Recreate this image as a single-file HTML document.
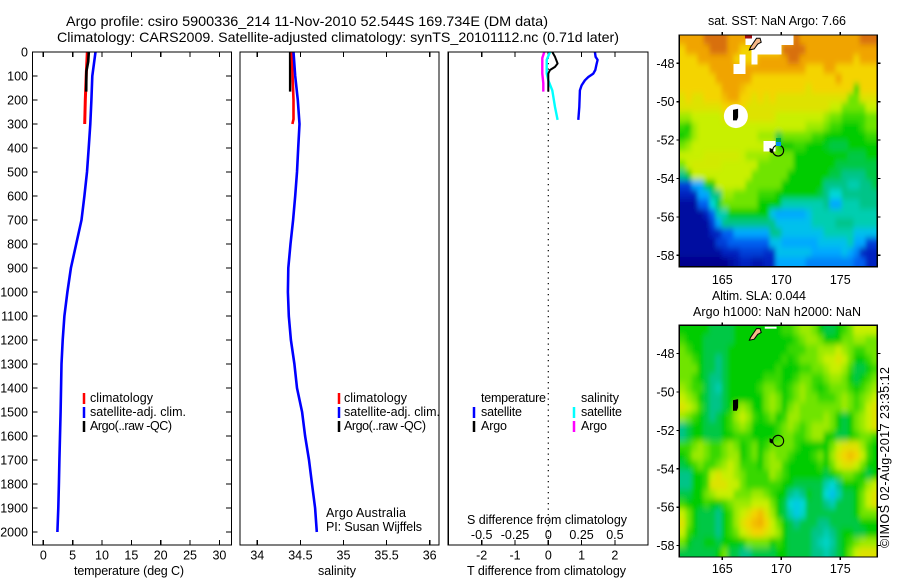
<!DOCTYPE html>
<html>
<head>
<meta charset="utf-8">
<title>Argo profile</title>
<style>
html,body{margin:0;padding:0;background:#fff;}
svg{display:block;}
text{font-family:"Liberation Sans",sans-serif;font-size:12.5px;fill:#000;}
.t{font-size:14px;}
</style>
</head>
<body>
<svg id="chart" xmlns="http://www.w3.org/2000/svg" width="900" height="580" viewBox="0 0 900 580">
<defs>
<filter id="soften" filterUnits="userSpaceOnUse" x="640" y="0" width="260" height="580"><feGaussianBlur stdDeviation="2 3.2"/></filter>
<clipPath id="clip-map-1"><rect x="679.3" y="35" width="198" height="231.7"/></clipPath>
<clipPath id="clip-map-2"><rect x="679.3" y="325.3" width="198" height="231.7"/></clipPath>
</defs>
<rect width="900" height="580" fill="#fff"/>
<text class="t" x="66" y="26" textLength="482" lengthAdjust="spacingAndGlyphs">Argo profile: csiro 5900336_214 11-Nov-2010 52.544S 169.734E (DM data)</text>
<text class="t" x="57" y="42" textLength="562" lengthAdjust="spacingAndGlyphs">Climatology: CARS2009. Satellite-adjusted climatology: synTS_20101112.nc (0.71d later)</text>

<g id="maps"></g>
<g id="panels"></g>

<rect x="745" y="35.5" width="7" height="3" fill="#a01010"/>
<rect x="776" y="138" width="5" height="4" fill="#00a840"/>
<rect x="776" y="142" width="5" height="4" fill="#0090f0"/>

<text x="74" y="575" textLength="110">temperature (deg C)</text>
<text x="318" y="575" textLength="38">salinity</text>
<text x="467" y="575" textLength="159">T difference from climatology</text>
<text x="467" y="524" textLength="160">S difference from climatology</text>

<g>
<line x1="84" y1="393" x2="84" y2="404" stroke="#f00" stroke-width="2.5"/>
<text x="90" y="402" textLength="63">climatology</text>
<line x1="84" y1="407" x2="84" y2="418" stroke="#00f" stroke-width="2.5"/>
<text x="90" y="416" textLength="96">satellite-adj. clim.</text>
<line x1="84" y1="421" x2="84" y2="432" stroke="#000" stroke-width="2.5"/>
<text x="90" y="430" textLength="82">Argo(..raw -QC)</text>
</g>
<g>
<line x1="339" y1="393" x2="339" y2="404" stroke="#f00" stroke-width="2.5"/>
<text x="344" y="402" textLength="63">climatology</text>
<line x1="339" y1="407" x2="339" y2="418" stroke="#00f" stroke-width="2.5"/>
<text x="344" y="416" textLength="96">satellite-adj. clim.</text>
<line x1="339" y1="421" x2="339" y2="432" stroke="#000" stroke-width="2.5"/>
<text x="344" y="430" textLength="82">Argo(..raw -QC)</text>
</g>
<g>
<text x="481" y="402" textLength="65">temperature</text>
<text x="581" y="402" textLength="38">salinity</text>
<line x1="474" y1="407" x2="474" y2="418" stroke="#00f" stroke-width="2.5"/>
<text x="481" y="416" textLength="41">satellite</text>
<line x1="474" y1="421" x2="474" y2="432" stroke="#000" stroke-width="2.5"/>
<text x="481" y="430" textLength="26">Argo</text>
<line x1="574" y1="407" x2="574" y2="418" stroke="#0ff" stroke-width="2.5"/>
<text x="581" y="416" textLength="41">satellite</text>
<line x1="574" y1="421" x2="574" y2="432" stroke="#f0f" stroke-width="2.5"/>
<text x="581" y="430" textLength="26">Argo</text>
</g>
<text x="326" y="517" textLength="80">Argo Australia</text>
<text x="326" y="531" textLength="96">PI: Susan Wijffels</text>

<text x="708" y="25" textLength="138">sat. SST: NaN Argo: 7.66</text>
<text x="712" y="300" textLength="94">Altim. SLA: 0.044</text>
<text x="693" y="316" textLength="168">Argo h1000: NaN h2000: NaN</text>
<text transform="translate(889,548) rotate(-90)" textLength="181">©IMOS 02-Aug-2017 23:35:12</text>
</svg>

<script>
// ---- profile data ----
const tempDepthTicks = [0,100,200,300,400,500,600,700,800,900,1000,1100,1200,1300,1400,1500,1600,1700,1800,1900,2000];
const tempTicks = [0,5,10,15,20,25,30];
const salTicks = [34,34.5,35,35.5,36];
const salTickLabels = ['34','34.5','35','35.5','36'];
const diffTTicks = [-2,-1,0,1,2];
const diffTLabels = ['-2','-1','0','1','2'];
const diffSTicks = [-0.5,-0.25,0,0.25,0.5];
const diffSLabels = ['-0.5','-0.25','0','0.25','0.5'];

const tempSatDepth = [0,100,200,300,400,500,600,700,800,900,1000,1100,1200,1300,1500,1700,1800,1900,2000];
const tempSatValue = [8.9,8.35,8.2,8.0,7.73,7.45,7.0,6.5,5.6,4.7,4.1,3.6,3.3,3.1,2.95,2.75,2.65,2.55,2.4];
const tempClimDepth = [0,100,200,300];
const tempClimValue = [7.5,7.3,7.15,7.05];
const tempArgoDepth = [0,40,80,165];
const tempArgoValue = [7.75,7.65,7.35,7.3];

const salSatDepth = [0,100,200,300,400,500,600,700,800,900,1000,1100,1200,1300,1400,1500,1600,1700,1800,1900,2000];
const salSatValue = [34.42,34.44,34.47,34.49,34.475,34.46,34.44,34.415,34.385,34.36,34.355,34.365,34.39,34.43,34.46,34.52,34.555,34.6,34.635,34.67,34.69];
const salClimDepth = [0,100,200,280,300];
const salClimValue = [34.4,34.41,34.42,34.42,34.407];
const salArgoDepth = [0,165];
const salArgoValue = [34.38,34.38];

const diffTSatDepth = [0,20,33,50,75,90,104,118,139,160,229,283];
const diffTSatValue = [1.4,1.42,1.48,1.45,1.41,1.35,1.2,1.1,1.0,0.95,0.93,0.9];
const diffTArgoDepth = [0,20,48,62,75,90,165];
const diffTArgoValue = [0.12,0.2,0.28,0.2,0.05,0,0];
const diffSSatDepth = [0,33,90,118,160,229,283];
const diffSSatValue = [0.013,-0.012,-0.012,0,0.03,0.05,0.07];
const diffSArgoDepth = [0,25,90,130,165];
const diffSArgoValue = [-0.03,-0.045,-0.045,-0.0375,-0.0375];

// ---- map data: colour level per cell, -1 = no data ----
const mapLonTicks = [165,170,175];
const mapLatTicks = [-48,-50,-52,-54,-56,-58];
const mapLatLabels = ['-48','-50','-52','-54','-56','-58'];
const sstLevels = [
[10,10,10,10,11,11,11,11,10,10,10,-1,-1,-1,-1,-1,-1,-1,-1,11,10,10,10,10,10,10,10,10,10,10,11,11,11],
[9,10,10,10,10,11,11,11,10,10,9,9,-1,-1,-1,-1,-1,11,11,11,11,10,10,10,10,10,10,10,10,10,10,10,10],
[9,9,9,10,10,10,10,10,10,9,-1,9,-1,10,10,10,10,10,11,11,10,10,10,10,10,10,10,10,10,9,10,10,10],
[9,9,9,9,9,10,10,10,10,-1,-1,10,10,10,10,10,10,10,10,10,10,9,9,9,10,10,9,9,9,9,9,9,9],
[9,9,9,9,9,9,10,10,10,10,10,10,9,9,9,9,9,9,9,9,9,9,9,9,9,9,10,9,9,9,9,9,9],
[9,9,9,9,9,9,9,10,10,10,9.5,9,9,9,9,9,9,9,9,9,9,8.5,9,9,9,9,9,9,9,6.5,9,9,9],
[8.5,9,8.5,8.5,9,9,9,9.5,10,10,9,9,8.5,9,8.5,9,8.5,8.5,8.5,8.5,8.5,8.5,8.5,8.5,8.5,8.5,8.5,8.5,7,7,8.5,8.5,8.5],
[8.5,8.5,8.5,8.5,8.5,8.5,8.5,9,9,9,9,8.5,8.5,8.5,8.5,8.5,8.5,8.5,8.5,8.5,8.5,8.5,8.5,8.5,8.5,8,8,7,7,7,7,8,8],
[7.5,7.5,8,8,8,8,8,8.5,8.5,8.5,8.5,8.5,8.5,8.5,8.5,8.5,8,8,8,8,8,8,8,8,7.5,7,7,6.5,6.5,6.5,6.5,7,7],
[6.5,6,7.5,8,8,8,8,8,8,8,8,8,8,8,8,8,8,8,8,8,8,7.5,7.5,7.5,7,6.5,6.5,6,6,6,6.5,7,7],
[6,6.5,7.5,8,8,8,8,8,8,8,8,8,8,7.5,7.5,7.5,5.5,7,7,7,7,7,6.5,6.5,6,6,6,6,6,6,6,6.5,6.5],
[7,7.5,8,8,8,8,8,8,8,8,8,8,8,8,-1,-1,6,6,6,6.5,6.5,6,6,6,5.8,5.5,5.5,5.5,6,6,6,6,6],
[8,8,8,8,8.2,8.2,8.2,8.2,8.2,8.2,8,7.5,7.5,7.5,7.5,7,7,7,7,6,6,6,6,6,6,6,6,6,5.5,5.5,5.5,6,6],
[7,8,8.2,8.2,8.2,8.2,8.2,8,8,8,8,8,8,7,7,7,7,7,7,6,6,6,6,6,6,6,5.5,5.5,5.5,5.5,5.5,5.5,5.5],
[5,6,8,8,8,8,8,8,8,8,8,8,7,7,7,7,7,7,6,6,6,6,6,6,6,5.5,5.5,5,5,5,5,5.5,5.5],
[1.5,1.5,3,3,6,6,8,8,8,8,8,7,7,7,7,7,7,6,6,6,6,6,6,6,5,5,5,5,4.5,4.5,5,5,5.5],
[1,1,1,3,3,5,5,7.5,7.5,7,7,7,7,6.5,6.5,6.5,6,6,6,6,6,6,6,5.5,5,4,4,5,5,5,5,5,5],
[0.5,0.5,0.5,2,2,4,5.5,7,7,7,7,7,7,6,6,6,6,4.5,4.5,4.5,4.5,4.5,4.5,4.5,5,3,3,4.5,4.5,4.5,5,5,5],
[0.5,0.5,0.5,0.5,1,2,4.5,4.5,6,6,6,6,6,6,6,3.5,3,3,3,3,3,3.5,4.5,4.5,4.5,4.5,4.5,4.5,4.5,4.5,4.5,4.5,4.5],
[0.5,0.5,0.5,0.5,0.5,1.5,3,5,5,5,5,5,5,5,5,5,3.5,3.5,3.5,3.5,3.5,3.5,4.5,4.5,4.5,4.5,5,5,5,4.5,4.5,4.5,4.5],
[0.5,0.5,0.5,0.5,0.5,1,1,2,2,3,3,3,3,3,3,5,5,3.5,3.5,3.5,3.5,3.5,3.5,3.5,4.5,4.5,4.5,4.5,4.5,3.5,3.5,3.5,3.5],
[0.5,0.5,0.5,0.5,0.5,0.5,1.5,1.5,2,2,2,2,2,2,2,3.5,3.5,3,3,3,3,3,3,3.5,3.5,3.5,3.5,3.5,4.5,3,3,1.5,1.5],
[0.5,0.5,0.5,0.5,0.5,0.5,0.5,1,1,1,1.5,1.5,1.5,1.5,1.2,1.2,3.5,3.5,3.5,3.5,3.5,3.5,3,3,3,3,3,3.5,3,2.5,1,1,1],
[0.2,0.2,0.2,0.2,0.2,0.2,0.2,0.2,0.5,0.7,1,1,0.7,0.7,1,1,3,3,3,3,3,2.5,2.5,2.5,2.5,2.5,2.5,2.5,2.5,2,2,1,1]
];
const slaLevels = [
[6,6,6,6,6,5.5,5.5,5.5,5.5,6,6,6,6,6,6,6,6,6.5,6.5,7,7.5,7.5,7,6,5.5,5.5,6,6.5,7,8,8,8,8],
[6.5,6,6,6,5.5,5.5,5.5,5.5,5.5,6,6,6,6,6,6,6,6,6,6,6.5,7,7.5,7.5,7,6,6,6,7,7,7.5,7.5,7,7],
[7,6.5,6,6,5.5,5.5,5.5,5.5,6,6,6,6,6,6,6,6,6,6,6.5,6.5,6.5,7,7,7.5,7.5,7.5,8,7.5,7,6.5,6.5,7,7],
[7,7,6.5,6,5.5,5.5,5,5.5,6,6,6,6,6,6,6,6,6,6.5,6,6.5,7,7,7,7.5,8,8,8.5,8,7,6,6,6.5,7],
[7,7,7,6,5.5,5.5,5,5.5,6,6,6,6,6,6,6,6,6.5,6,6,6,6.5,6.5,7,7,7.5,8,8,7.5,6.5,5.5,5.5,6,6.5],
[7,7,6.5,6,5.5,5,5,5.5,6,6,6,6,6,6,6.5,6.5,6.5,6,6,6.5,7,7,6.5,6.5,7,7.5,7.5,7,6,5.5,6,6.5,7],
[7.5,7,6.5,6.5,5.5,5,4.5,5.5,6,6,6,6,6,6.5,7,7,6.5,6,6.5,7,7.5,7,6.5,6,6.5,7,7,7,6.5,6,6.5,7,7.5],
[8,7.5,7,6,5.5,5,5,5.5,6,6,6,6,6,6,7,7.5,7,6,6.5,7,7.5,7,7,6.5,6.5,6.5,7,7.5,7,6.5,7,7.5,8],
[8.5,8,7.5,6.5,5.5,5,5,5.5,6,7,7.5,7,6,6,7,7.5,7,6,7,7.5,7,7,7,7,7,7,7,7.5,7,6.5,7,8,8.5],
[7.5,7,6.5,6,5.5,5,5.5,6,6.5,7.5,8,7.5,6.5,6,6.5,7,6,6.5,7.5,7.5,7,7,7,7,7.5,7,6,5.5,6,7,7.5,8,8.5],
[5,5.5,6,6,5.5,5.5,5.5,6,6.5,7,7.5,7,6,6,6,6,6.5,7,7.5,7,6.5,7,7.5,7.5,7.5,7,6,5.5,6,7,7.5,8,8.5],
[5,5.5,6,6,5.5,5.5,5.5,6,6,6.5,6.5,6.5,6,6,6,6,6.5,7,7,6.5,6.5,7,7.5,7.5,6,6,5.5,5.5,6,6.5,7,7,6.5],
[6.5,6.5,7,7.5,7,6.5,6.5,7,7.5,7,6,6.5,7,6,6.5,7,7,7,7,6.5,6,6,6,6,6,7,8,8.5,8.5,8.5,7.5,6.5,6],
[6,6.5,7.5,7.5,7,6.5,6.5,7,7.5,7.5,6,6.5,7,6,7,7.5,7,7,6.5,6,6,6,6.5,7,6,7.5,8.5,9,9.5,9,8,6.5,6],
[5.5,6,6.5,7,6.5,6.5,7,7.5,8,7.5,6.5,6.5,6.5,6,7,7.5,7.5,6.5,6,6,6,6,6,6.5,6,7,8,8.5,8.5,8,7,6,6],
[5,5,6,6,6.5,8,8.5,8,8,7.5,7,6.5,6.5,6.5,6.5,7.5,7,6.5,6,6,6,6,6,6,5.5,6,6.5,7,7,6.5,6,5.5,6],
[5,5,6,6,6.5,8.5,8.5,8.5,8,8,7,6.5,6.5,6.5,6.5,6.5,6.5,6,6,5.5,5.5,5.5,5.5,5.5,4.5,4,5,6,6,6,6.5,7.5,8],
[5.5,5.5,6,6,7,7.5,8,8,8,7,7,7,7.5,7.5,7,6.5,6,6,5,4.5,5,6,5.5,5.5,4,3.5,4.5,5.5,5.5,6,7,8,8.5],
[6.5,6,6,6,6.5,6,6,6.5,7,7.5,7.5,7.5,8,8,8,7,6,5.5,4,3.7,4,5.5,5.5,5.5,5,4.5,5.5,5.5,5.5,6,7,8,8.5],
[8,7,6,5.5,5.5,5.5,5,6,6.5,7.5,8,8.5,9,9.5,8.5,7.5,6,5.5,4.5,3.7,4.2,5.5,5.5,5.5,5.5,5.5,5.5,5.5,5.5,6,7,7,7],
[8.5,7,6,5.5,5.5,5.5,5,6,6.5,7.5,8.5,9,9.5,9.8,9,8,7,6,5.5,5,5.5,5.5,5.5,5,5,5.5,5.5,5.5,5.5,5.5,6,6,6],
[8,6.5,6,5.5,5.5,5.5,5,6,6.5,7,8,8.5,9,9,8.5,8,7.5,6,5.5,5.5,5.5,5.5,5,5,4.5,5,5.5,6,6,5.5,5.5,6,6],
[7,6,5.5,5.5,6,6,5.5,6,6,6,6,7,7,7,7,6,6.5,6,5.5,5.5,5.5,5.5,5,4.5,4.2,4.7,5.5,6,6.5,7,7.5,7.5,7.5],
[5.5,5.5,5.5,5.5,5.5,5.5,6,7,5.5,5.5,5,5,5.5,5.5,5.5,5.5,6,6,5.5,5.5,5.5,5.5,5,5,4.5,5,5.5,6,7,8,8.5,8.5,8.5]
];
const colourStops = ['#000080','#0020c0','#0060f0','#00a8ff','#00d8d8','#00c488','#00cc00','#70e400','#c8f000','#f4d400','#f0a400','#d87010'];

// island outlines, lon/lat
const stewartLon = [167.4,167.9,168.2,168.3,168.0,167.7,167.3];
const stewartLat = [-47.15,-46.7,-46.7,-46.9,-47.0,-47.25,-47.3];
const aucklandLon = [165.95,166.3,166.3,166.2,165.95];
const aucklandLat = [-50.45,-50.4,-50.8,-50.95,-50.95];
const campbellLon = [169.05,169.25,169.2,169.05];
const campbellLat = [-52.45,-52.5,-52.65,-52.6];
const antipodesLon = [168.6,169.6];
const antipodesLat = [-46.65,-46.65];
const noDataLon = 166.15;
const noDataLat = -50.75;
const floatLon = 169.734;
const floatLat = -52.544;

// ---- helpers ----
const NS = 'http://www.w3.org/2000/svg';
const panelsG = document.getElementById('panels');
const mapsG = document.getElementById('maps');

function mk(parent, tag, attrs, txt){
  const el = document.createElementNS(NS, tag);
  for (const k in attrs) el.setAttribute(k, attrs[k]);
  if (txt !== undefined) el.textContent = txt;
  parent.appendChild(el);
  return el;
}
function tick(parent, x1, y1, x2, y2, name){
  const el = mk(parent, 'line', {x1:x1,y1:y1,x2:x2,y2:y2,stroke:'#000','stroke-width':1.2,'shape-rendering':'crispEdges'});
  
  
  return el;
}
function label(parent, x, y, s, anchor, name){
  const el = mk(parent, 'text', {x:x,y:y,'text-anchor':anchor}, s);
  
  
  return el;
}
function frame(parent, x, y, w, h, name){
  const el = mk(parent, 'rect', {x:x,y:y,width:w,height:h,fill:'none',stroke:'#000','stroke-width':1.2,'shape-rendering':'crispEdges'});
  
  
  return el;
}
function profile(parent, depths, values, xf, colour, w, name){
  const pts = depths.map((d,i)=>xf(values[i]).toFixed(1)+','+yD(d).toFixed(1)).join(' ');
  const el = mk(parent, 'polyline', {points:pts,fill:'none',stroke:colour,'stroke-width':w,'stroke-linejoin':'round'});
  
  
  return el;
}

// ---- axis functions ----
const TOP = 52, BOTTOM = 545;
function yD(d){ return 52 + 0.24*d; }
function xT(t){ return 43.3 + 5.87*t; }
function xS(s){ return 257.3 + 86.2*(s-34); }
function xDT(t){ return 548.3 + 33.3*t; }
function xDS(s){ return 548.3 + 133.2*s; }

// ---- temperature panel ----
const p1 = mk(panelsG, 'g', {});


tempDepthTicks.forEach(d=>{
  tick(p1, 32.5, yD(d), 37.5, yD(d), 'depth-tick');
  tick(p1, 226, yD(d), 231.5, yD(d), 'depth-tick-right');
  label(p1, 28, yD(d)+4.5, String(d), 'end', 'depth-tick-label');
});
tempTicks.forEach(t=>{
  tick(p1, xT(t), TOP, xT(t), TOP+5, 'temperature-tick-top');
  tick(p1, xT(t), BOTTOM-5, xT(t), BOTTOM, 'temperature-tick');
  label(p1, xT(t), 559.5, String(t), 'middle', 'temperature-tick-label');
});
profile(p1, tempClimDepth, tempClimValue, xT, '#f00', 3, 'temperature-climatology-line');
profile(p1, tempSatDepth, tempSatValue, xT, '#00f', 2.6, 'temperature-satellite-line');
profile(p1, tempArgoDepth, tempArgoValue, xT, '#000', 2.6, 'temperature-argo-line');
frame(p1, 32.5, TOP, 199, BOTTOM-TOP, 'temperature-panel-frame');

// ---- salinity panel ----
const p2 = mk(panelsG, 'g', {});


salTicks.forEach((s,i)=>{
  tick(p2, xS(s), TOP, xS(s), TOP+5, 'salinity-tick-top');
  tick(p2, xS(s), BOTTOM-5, xS(s), BOTTOM, 'salinity-tick');
  label(p2, xS(s), 559.5, salTickLabels[i], 'middle', 'salinity-tick-label');
});
profile(p2, salArgoDepth, salArgoValue, xS, '#000', 2.4, 'salinity-argo-line');
profile(p2, salClimDepth, salClimValue, xS, '#f00', 2.6, 'salinity-climatology-line');
profile(p2, salSatDepth, salSatValue, xS, '#00f', 2.6, 'salinity-satellite-line');
frame(p2, 240, TOP, 199, BOTTOM-TOP, 'salinity-panel-frame');

// ---- difference panel ----
const p3 = mk(panelsG, 'g', {});


const zero = mk(p3, 'line', {x1:xDT(0),y1:TOP,x2:xDT(0),y2:BOTTOM,stroke:'#000','stroke-width':1.2,'stroke-dasharray':'1.3 4.2'});


diffTTicks.forEach((t,i)=>{
  tick(p3, xDT(t), TOP, xDT(t), TOP+5, 'difference-tick-top');
  tick(p3, xDT(t), BOTTOM-5, xDT(t), BOTTOM, 'difference-tick');
  label(p3, xDT(t), 559.5, diffTLabels[i], 'middle', 't-difference-tick-label');
});
diffSTicks.forEach((s,i)=>{
  label(p3, xDS(s), 539, diffSLabels[i], 'middle', 's-difference-tick-label');
});
profile(p3, diffSArgoDepth, diffSArgoValue, xDS, '#f0f', 2.4, 's-difference-argo-line');
profile(p3, diffSSatDepth, diffSSatValue, xDS, '#0ff', 2.4, 's-difference-satellite-line');
profile(p3, diffTArgoDepth, diffTArgoValue, xDT, '#000', 2, 't-difference-argo-line');
profile(p3, diffTSatDepth, diffTSatValue, xDT, '#00f', 2.4, 't-difference-satellite-line');
frame(p3, 448.3, TOP, 199.7, BOTTOM-TOP, 'difference-panel-frame');

// ---- maps ----
function hex(c){ return [1,3,5].map(i=>parseInt(c.substr(i,2),16)); }
function levelColour(v){
  const i = Math.max(0, Math.min(colourStops.length-2, Math.floor(v)));
  const f = v - i;
  const a = hex(colourStops[i]), b = hex(colourStops[i+1]);
  return 'rgb(' + a.map((c,k)=>Math.round(c+(b[k]-c)*f)).join(',') + ')';
}
function drawMap(levels, mapTop, labelBase, bottomTicks, clipId, hasNoData, name){
  const left = 679.3, width = 198, height = 231.7;
  const xLon = lon => 722.3 + 11.8*(lon-165);
  const yLat = lat => mapTop + 28.3 + 19.2*(-48-lat);
  const g = mk(mapsG, 'g', {});
  
  
  const clip = mk(g, 'g', {'clip-path':'url(#'+clipId+')'});
  
  
  const soft = mk(clip, 'g', {filter:'url(#soften)'});
  
  
  const rows = levels.length, cols = levels[0].length;
  const cw = width/cols, ch = height/rows;
  levels.forEach((row,r)=>{
    row.forEach((v,c)=>{
      // no-data cells borrow a neighbour underneath, then get a crisp white patch on top
      let fillV = v;
      for (let k=c; fillV<0 && k>=0; k--) fillV = row[k];
      const pad = 14;
      const x0 = left + c*cw - (c===0?pad:0);
      const y0 = mapTop + r*ch - (r===0?pad:0);
      const w = cw + 0.4 + (c===0?pad:0) + (c===cols-1?pad:0);
      const h = ch + 0.4 + (r===0?pad:0) + (r===rows-1?pad:0);
      const cell = mk(soft, 'rect', {x:x0.toFixed(2),y:y0.toFixed(2),width:w.toFixed(2),height:h.toFixed(2),fill:levelColour(fillV),'shape-rendering':'crispEdges'});
      
      
    });
  });
  levels.forEach((row,r)=>{
    row.forEach((v,c)=>{
      if (v >= 0) return;
      const hole = mk(clip, 'rect', {x:(left+c*cw).toFixed(2),y:(mapTop+r*ch).toFixed(2),width:(cw+0.4).toFixed(2),height:(ch+0.4).toFixed(2),fill:'#fff','shape-rendering':'crispEdges'});
      
      
    });
  });
  if (hasNoData){
    const patch = mk(clip, 'circle', {cx:xLon(noDataLon),cy:yLat(noDataLat),r:12,fill:'#fff'});
    
    
  }
  const poly = (lons,lats,fill,stroke,n)=>{
    const el = mk(g, 'polygon', {points:lons.map((l,i)=>xLon(l).toFixed(1)+','+yLat(lats[i]).toFixed(1)).join(' '),fill:fill,stroke:stroke,'stroke-width':1});
    
    
  };
  poly(stewartLon, stewartLat, '#f5b888', '#000', 'stewart-island');
  poly(aucklandLon, aucklandLat, '#000', '#000', 'auckland-island');
  poly(campbellLon, campbellLat, '#000', '#000', 'campbell-island');
  const dash = mk(g, 'line', {x1:xLon(antipodesLon[0]),y1:yLat(antipodesLat[0]),x2:xLon(antipodesLon[1]),y2:yLat(antipodesLat[1]),stroke:'#fff','stroke-width':2});
  
  
  const circle = mk(g, 'circle', {cx:xLon(floatLon),cy:yLat(floatLat),r:5.5,fill:'none',stroke:'#000','stroke-width':1.1});
  
  
  frame(g, left, mapTop, width, height, 'map-frame');
  mapLonTicks.forEach(lon=>{
    tick(g, xLon(lon), mapTop-3, xLon(lon), mapTop, 'longitude-tick');
    if (bottomTicks) tick(g, xLon(lon), mapTop+height, xLon(lon), mapTop+height+3, 'longitude-tick-bottom');
    label(g, xLon(lon), labelBase, String(lon), 'middle', 'longitude-label');
  });
  mapLatTicks.forEach((lat,i)=>{
    tick(g, left-3, yLat(lat), left, yLat(lat), 'latitude-tick');
    tick(g, left+width, yLat(lat), left+width+3, yLat(lat), 'latitude-tick-right');
    label(g, 674.5, yLat(lat)+4.5, mapLatLabels[i], 'end', 'latitude-label');
  });
}
drawMap(sstLevels, 35, 284, false, 'clip-map-1', true, 'sst-map');
drawMap(slaLevels, 325.3, 573, true, 'clip-map-2', false, 'sla-map');
</script>
</body>
</html>
